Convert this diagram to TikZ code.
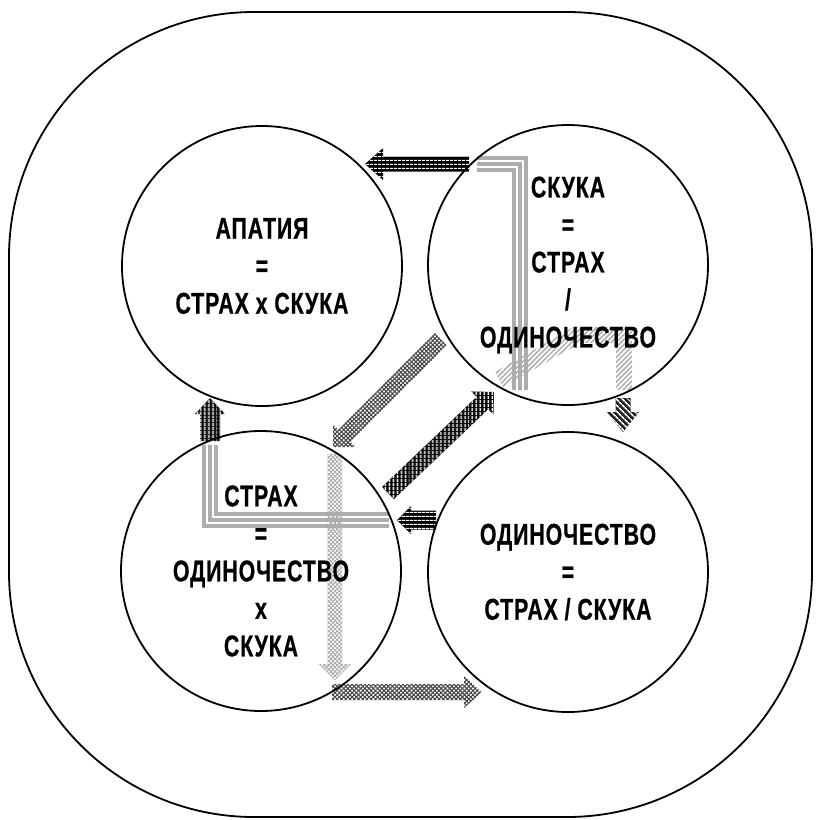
\documentclass[tikz,border=0pt]{standalone}
\usepackage{fontspec}
\newfontfamily\circfont{Liberation Sans Bold}[FakeStretch=0.71,LetterSpace=3,FakeBold=0.6]
\usetikzlibrary{calc,patterns.meta}
\definecolor{FadeGray}{gray}{0.68}
\definecolor{MeshGray}{gray}{0.28}

% fat arrow: style, tail, tip, half body, half head, head length
\newcommand{\fatarrow}[6]{%
  \coordinate (hb) at ($(#3)!#6!(#2)$);
  \path[#1] ($(#2)!#4!90:(#3)$) -- ($(hb)!#4!90:(#3)$) -- ($(hb)!#5!90:(#3)$) -- (#3)
    -- ($(hb)!#5!-90:(#3)$) -- ($(hb)!#4!-90:(#3)$) -- ($(#2)!#4!-90:(#3)$) -- cycle;}

\begin{document}
\begin{tikzpicture}[x=1pt,y=-1pt,
  state/.style={circle,draw,line width=1.8pt,minimum size=280pt,inner sep=0pt,align=center,
    font=\circfont\fontsize{30}{37.5}\selectfont},
  blackbars/.style={fill=black,postaction={pattern={Lines[angle=0,distance=4pt,line width=1.2pt]},pattern color=white}},
  blackposts/.style={fill=black,postaction={pattern={Lines[angle=90,distance=4pt,line width=1.7pt]},pattern color=white}},
  mesh/.style={pattern={Hatch[angle=45,distance=3pt,line width=1.1pt]},pattern color=MeshGray},
  palemesh/.style={pattern={Hatch[angle=45,distance=3pt,line width=1pt]},pattern color=FadeGray},
  slants/.style={fill=black!85,postaction={pattern={Lines[angle=-45,distance=4pt,line width=1.6pt]},pattern color=white}},
  paleslants/.style={pattern={Lines[angle=45,distance=3.5pt,line width=1.5pt]},pattern color=FadeGray},
  trail/.style={draw=FadeGray,line width=3.4pt}]
\useasboundingbox (0,0) rectangle (815,820);

\draw[line width=1.8pt,rounded corners=245pt] (9,12) rectangle (812,817);

\coordinate (topTail) at (469,164);
\coordinate (topTip) at (365,164);
\coordinate (upTail) at (210,441);
\coordinate (upTip) at (210,398);
\coordinate (leftTail) at (436,520);
\coordinate (leftTip) at (397,520);
\coordinate (diagTail) at (441,339);
\coordinate (diagTip) at (333,447);
\coordinate (riseTail) at (388,493);
\coordinate (riseTip) at (494,392);
\coordinate (dropTail) at (623,398);
\coordinate (dropTip) at (623,432);
\coordinate (fallTail) at (335,454);
\coordinate (fallTip) at (335,680);
\coordinate (runTail) at (332,692);
\coordinate (runTip) at (482,692);

% faded trails
\foreach \o in {0,6,12}
  \draw[trail] (477,158+\o) -- (526-\o,158+\o) -- (526-\o,390);
\foreach \o in {0,6,12}
  \draw[trail] (204+\o,445) -- (204+\o,526-\o) -- (389,526-\o);
\path[paleslants] (495,372) -- (574,327) -- (632,327) -- (632,390) -- (616,390)
  -- (616,343) -- (580,343) -- (503,387) -- cycle;

\fatarrow{blackbars}{topTail}{topTip}{7.5pt}{16pt}{18pt}
\fatarrow{blackposts}{upTail}{upTip}{10pt}{15pt}{16pt}
\fatarrow{blackbars}{leftTail}{leftTip}{9.5pt}{14pt}{14pt}
\fatarrow{mesh}{diagTail}{diagTip}{8.5pt}{16pt}{16pt}
\fatarrow{blackposts}{riseTail}{riseTip}{8.5pt}{16pt}{16pt}
\fatarrow{slants}{dropTail}{dropTip}{7.5pt}{16pt}{20pt}
\fatarrow{palemesh}{fallTail}{fallTip}{7.5pt}{16pt}{16pt}
\fatarrow{mesh}{runTail}{runTip}{8pt}{16pt}{18pt}

\node[state] (apatia) at (262,266) {АПАТИЯ\\=\\СТРАХ x СКУКА};
\node[state] (skuka) at (568,265) {СКУКА\\=\\СТРАХ\\/\\ОДИНОЧЕСТВО};
\node[state] (strakh) at (261,571) {СТРАХ\\=\\ОДИНОЧЕСТВО\\x\\СКУКА};
\node[state] (odin) at (568,572) {ОДИНОЧЕСТВО\\=\\СТРАХ / СКУКА};

\end{tikzpicture}
\end{document}
